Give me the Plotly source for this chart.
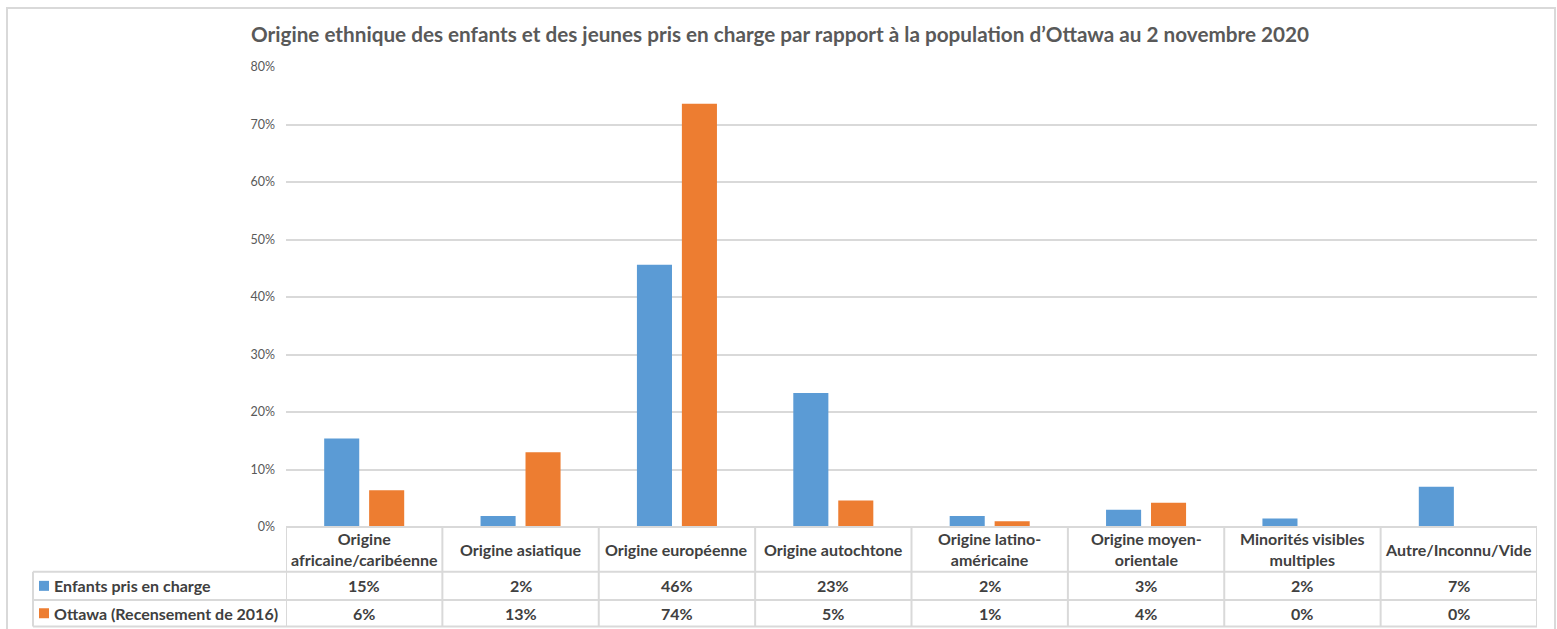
import plotly.graph_objects as go

# ---------------- data ----------------
categories = [
    "Origine africaine/caribéenne",
    "Origine asiatique",
    "Origine européenne",
    "Origine autochtone",
    "Origine latino-américaine",
    "Origine moyen-orientale",
    "Minorités visibles multiples",
    "Autre/Inconnu/Vide",
]
header_labels = [
    "Origine<br>africaine/caribéenne",
    "Origine asiatique",
    "Origine européenne",
    "Origine autochtone",
    "Origine latino-<br>américaine",
    "Origine moyen-<br>orientale",
    "Minorités visibles<br>multiples",
    "Autre/Inconnu/Vide",
]
series_names = ["Enfants pris en charge", "Ottawa (Recensement de 2016)"]
enfants = [0.154, 0.019, 0.456, 0.233, 0.019, 0.030, 0.015, 0.070]
ottawa = [0.064, 0.130, 0.736, 0.046, 0.010, 0.042, 0.0, 0.0]
enfants_labels = ["15%", "2%", "46%", "23%", "2%", "3%", "2%", "7%"]
ottawa_labels = ["6%", "13%", "74%", "5%", "1%", "4%", "0%", "0%"]
y_ticks = [0, 0.1, 0.2, 0.3, 0.4, 0.5, 0.6, 0.7, 0.8]

title = ("Origine ethnique des enfants et des jeunes pris en charge par rapport "
         "à la population d’Ottawa au 2 novembre 2020")

# ---------------- style ----------------
W, H = 1557, 629
L, R, T, B = 286, 1537, 67, 527
BLUE, ORANGE = "#5B9BD5", "#ED7D31"
GRID = "#D9D9D9"
TXT = "#404040"
FONT = "Lato"
TFS = 16


def xp(px):
    return (px - L) / (R - L)


def yp(py):
    return (B - py) / (B - T)


fig = go.Figure()
fig.add_trace(go.Bar(x=categories, y=enfants, name=series_names[0],
                     marker=dict(color=BLUE, line=dict(width=0))))
fig.add_trace(go.Bar(x=categories, y=ottawa, name=series_names[1],
                     marker=dict(color=ORANGE, line=dict(width=0))))

shapes = []
annotations = []

# outer chart border
shapes.append(dict(type="rect", xref="paper", yref="paper",
                   x0=xp(7), x1=xp(1555), y0=yp(640), y1=yp(8),
                   line=dict(color=GRID, width=2), layer="below"))

row_top, row1, row2, row_bot = 527, 571.7, 600, 626.5
n = len(categories)
# horizontal table lines
shapes.append(dict(type="line", xref="x", yref="paper", x0=-0.5, x1=n - 0.5,
                   y0=yp(row_top), y1=yp(row_top), line=dict(color=GRID, width=2)))
for yy in (row1, row2, row_bot):
    shapes.append(dict(type="line", xref="paper", yref="paper", x0=xp(33), x1=xp(R),
                       y0=yp(yy), y1=yp(yy), line=dict(color=GRID, width=2)))
# vertical table lines
shapes.append(dict(type="line", xref="paper", yref="paper", x0=xp(33), x1=xp(33),
                   y0=yp(row1), y1=yp(row_bot), line=dict(color=GRID, width=2)))
for i in range(n + 1):
    shapes.append(dict(type="line", xref="x", yref="paper", x0=i - 0.5, x1=i - 0.5,
                       y0=yp(row_top), y1=yp(row_bot), line=dict(color=GRID, width=2)))

# header & values
hy = (row_top + row1) / 2
r1y = (row1 + row2) / 2
r2y = (row2 + row_bot) / 2
for cat, hl, a, b in zip(categories, header_labels, enfants_labels, ottawa_labels):
    for yy, txt in ((hy, hl), (r1y, a), (r2y, b)):
        annotations.append(dict(x=cat, xref="x", y=yp(yy), yref="paper", text=f"<b>{txt}</b>",
                                showarrow=False, yanchor="middle", xanchor="center",
                                font=dict(family=FONT, size=TFS, color=TXT)))

# legend keys in table
for ry, col, name in ((r1y, BLUE, series_names[0]), (r2y, ORANGE, series_names[1])):
    shapes.append(dict(type="rect", xref="paper", yref="paper",
                       x0=xp(39), x1=xp(49), y0=yp(ry + 5), y1=yp(ry - 5),
                       fillcolor=col, line=dict(width=0)))
    annotations.append(dict(x=xp(52), xref="paper", y=yp(ry), yref="paper",
                            text=f"<b>{name}</b>", showarrow=False,
                            xanchor="left", yanchor="middle",
                            font=dict(family=FONT, size=TFS, color=TXT)))

fig.update_layout(
    width=W, height=H, autosize=False,
    margin=dict(l=L, r=W - R, t=T, b=H - B, pad=0),
    paper_bgcolor="white", plot_bgcolor="white",
    showlegend=False,
    barmode="group", bargap=0.425, bargroupgap=0.22,
    title=dict(text=f"<b>{title}</b>", x=xp(780), xref="paper", xanchor="center",
               y=1 - 35 / H, yref="container", yanchor="middle",
               font=dict(family=FONT, size=20.7, color="#595959")),
    font=dict(family=FONT, color="#595959"),
    shapes=shapes,
    annotations=annotations,
)
fig.update_xaxes(showticklabels=False, showgrid=False, zeroline=False, showline=False,
                 ticks="", range=[-0.5, n - 0.5])
fig.update_yaxes(range=[0, 0.8], tickvals=y_ticks, tickformat=".0%",
                 showgrid=True, gridcolor=GRID, gridwidth=1.5,
                 zeroline=False, showline=False, ticks="",
                 ticklabelstandoff=10,
                 tickfont=dict(family=FONT, size=12.5, color="#595959"))

fig.write_html("out.html",
               config={"displayModeBar": False},
               post_script="document.body.style.margin='0';document.body.style.overflow='hidden';")
